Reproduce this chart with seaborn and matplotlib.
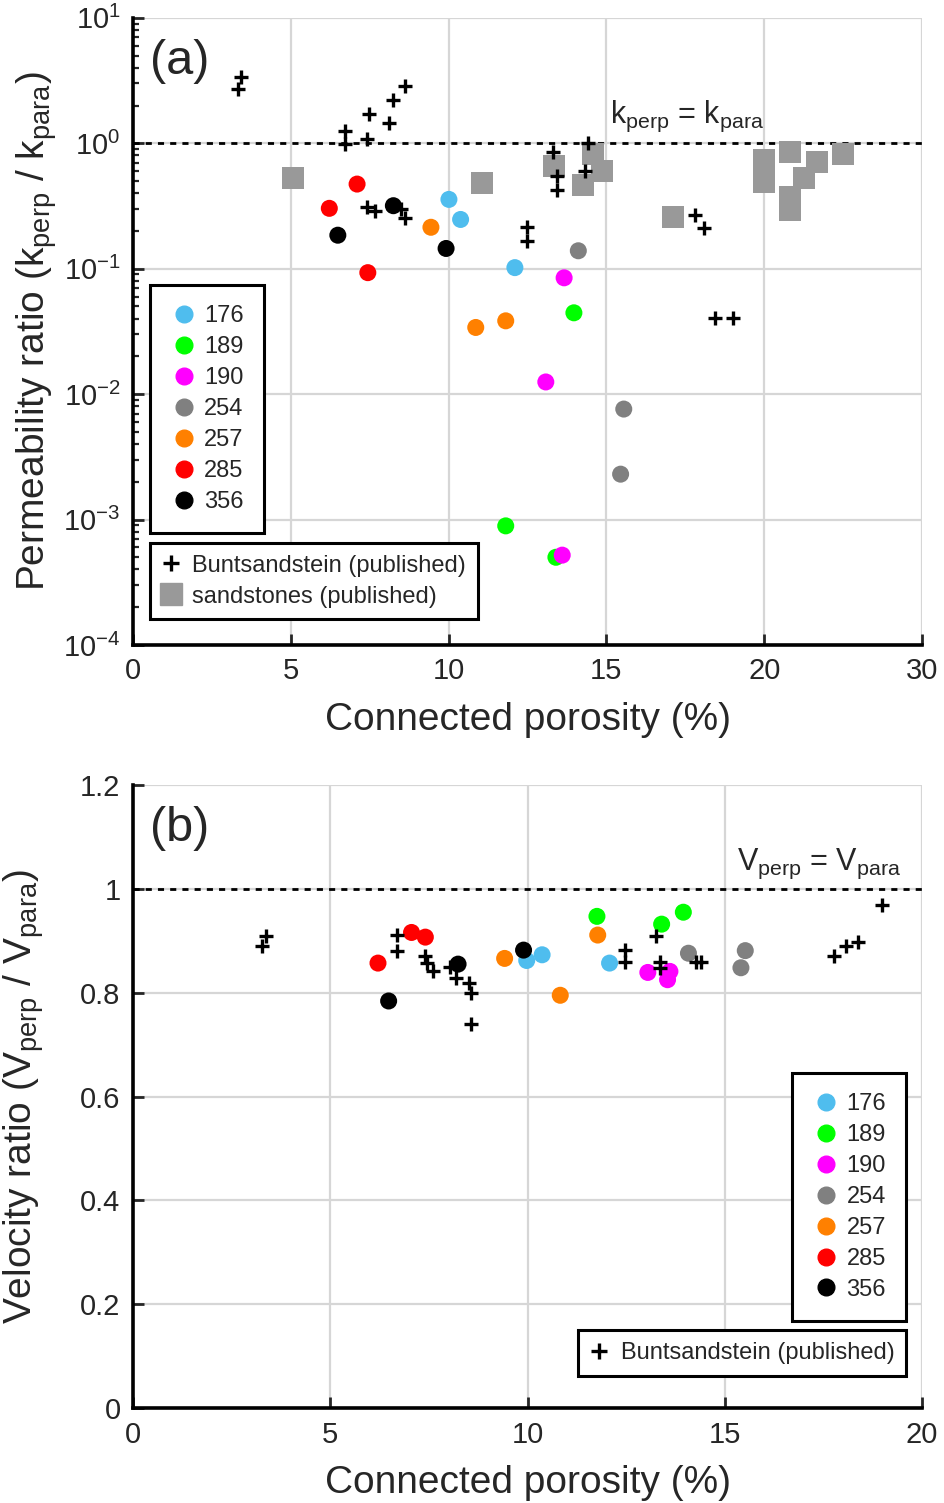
import numpy as np
import pandas as pd
import matplotlib
matplotlib.use('Agg')
import matplotlib.pyplot as plt
import seaborn as sns
from matplotlib.lines import Line2D
from matplotlib.ticker import LogLocator, LogFormatterMathtext, NullFormatter

sns.set_style('white')
plt.rcParams['font.family'] = ['Liberation Sans', 'DejaVu Sans']
plt.rcParams['mathtext.default'] = 'regular'
plt.rcParams['axes.unicode_minus'] = False

samples = ['176', '189', '190', '254', '257', '285', '356']
colors = ['#4FBDEE', '#00FF00', '#FF00FF', '#808080', '#FF8000', '#FF0000', '#000000']

# panel (a): permeability ratio vs connected porosity
perm_sample = ['176'] * 3 + ['189'] * 3 + ['190'] * 3 + ['254'] * 3 + ['257'] * 3 + ['285'] * 3 + ['356'] * 3
perm_por = [10.01, 10.38, 12.10, 13.97, 11.81, 13.40, 13.66, 13.08, 13.60,
            14.11, 15.55, 15.45, 9.44, 10.86, 11.81, 7.10, 6.22, 7.44, 8.25, 6.49, 9.92]
perm_ratio = [0.357, 0.247, 0.102, 0.0445, 0.00089, 0.0005, 0.0846, 0.0125, 0.00052,
              0.139, 0.0076, 0.0023, 0.214, 0.034, 0.0384, 0.473, 0.303, 0.093, 0.318, 0.185, 0.145]

bunt_por_a = [3.32, 3.42, 6.72, 6.72, 7.41, 7.49, 8.10, 8.23, 8.63, 7.41, 7.67, 8.49, 8.62,
              12.48, 12.48, 13.32, 13.42, 13.42, 14.41, 14.32, 17.81, 18.10, 18.44, 19.02]
bunt_ratio_a = [2.70, 3.40, 1.25, 0.99, 1.08, 1.70, 1.44, 2.22, 2.87, 0.309, 0.288, 0.30, 0.255,
                0.215, 0.166, 0.857, 0.551, 0.424, 1.0, 0.604, 0.268, 0.210, 0.0401, 0.0401]

sand_por = [5.06, 11.07, 13.35, 14.27, 14.58, 14.85, 17.10, 19.99, 19.99,
            20.81, 21.66, 21.26, 20.81, 20.81, 22.51]
sand_ratio = [0.526, 0.485, 0.662, 0.465, 0.822, 0.604, 0.257, 0.736, 0.494,
              0.857, 0.705, 0.526, 0.371, 0.294, 0.822]

# panel (b): velocity ratio vs connected porosity
vel_sample = perm_sample
vel_por = [9.98, 10.37, 12.08, 11.76, 13.40, 13.95, 13.05, 13.61, 13.55,
           14.08, 15.52, 15.41, 9.42, 11.78, 10.83, 6.21, 7.06, 7.41, 6.48, 8.24, 9.90]
vel_ratio = [0.862, 0.873, 0.857, 0.947, 0.932, 0.955, 0.839, 0.841, 0.825,
             0.876, 0.881, 0.848, 0.866, 0.911, 0.795, 0.857, 0.916, 0.907, 0.784, 0.855, 0.882]

bunt_por_b = [3.38, 3.28, 6.68, 6.68, 7.39, 7.44, 7.60, 8.03, 8.19, 8.52, 8.57, 8.57,
              13.26, 12.48, 12.48, 13.37, 13.37, 14.27, 14.40, 17.77, 18.07, 18.38, 18.98]
bunt_ratio_b = [0.910, 0.889, 0.911, 0.880, 0.871, 0.858, 0.841, 0.850, 0.828, 0.819, 0.800, 0.740,
                0.910, 0.882, 0.860, 0.860, 0.847, 0.860, 0.860, 0.870, 0.890, 0.898, 0.969]

pal = dict(zip(samples, colors))
df_a = pd.DataFrame({'sample': perm_sample, 'porosity': perm_por, 'ratio': perm_ratio})
df_b = pd.DataFrame({'sample': vel_sample, 'porosity': vel_por, 'ratio': vel_ratio})

fig = plt.figure(figsize=(9.44, 15.03), dpi=100)
ax1 = fig.add_axes([0.1409, 0.5709, 0.8358, 0.4172])
ax2 = fig.add_axes([0.1409, 0.0632, 0.8358, 0.4145])


def style_axes(ax):
    ax.set_axisbelow(True)
    ax.grid(True, color='#d6d6d6', lw=1.6)
    for s in ['top', 'right']:
        ax.spines[s].set_visible(False)
    for s in ['left', 'bottom']:
        ax.spines[s].set_linewidth(2.6)
        ax.spines[s].set_color('black')
    ax.tick_params(which='both', left=True, bottom=True)
    ax.tick_params(which='major', direction='in', length=8, width=2, labelsize=21, pad=9)
    ax.tick_params(which='minor', direction='in', length=4.5, width=1.6)


def color_legend(ax, anchor, loc):
    handles = [Line2D([], [], ls='', marker='o', ms=12, color=c, label=s) for s, c in zip(samples, colors)]
    leg = ax.legend(handles=handles, loc=loc, bbox_to_anchor=anchor, borderaxespad=0,
                    fontsize=17, frameon=True, fancybox=False, edgecolor='black',
                    handlelength=1.15, handletextpad=0.3, labelspacing=0.38,
                    borderpad=0.85, framealpha=1)
    leg.get_frame().set_linewidth(2.2)
    return leg


# ---- (a)
sns.scatterplot(data=df_a, x='porosity', y='ratio', hue='sample', palette=pal, s=150,
                linewidth=0, ax=ax1, legend=False, zorder=4)
sns.scatterplot(x=sand_por, y=sand_ratio, marker='s', color='#999999', s=270, linewidth=0,
                ax=ax1, zorder=3)
sns.scatterplot(x=bunt_por_a, y=bunt_ratio_a, marker='+', color='black', s=110, linewidth=2.4,
                ax=ax1, zorder=5)
ax1.axhline(1, color='black', ls=(0, (2.2, 2.2)), lw=2, zorder=2)
ax1.set_yscale('log')
ax1.set_xlim(0, 25)
ax1.set_ylim(1e-4, 1e1)
ax1.set_xticks([0, 5, 10, 15, 20, 25])
ax1.set_xticklabels(['0', '5', '10', '15', '20', '30'])
ax1.yaxis.set_major_locator(LogLocator(base=10, numticks=10))
ax1.yaxis.set_major_formatter(LogFormatterMathtext())
ax1.yaxis.set_minor_locator(LogLocator(base=10, subs=np.arange(2, 10), numticks=20))
ax1.yaxis.set_minor_formatter(NullFormatter())
style_axes(ax1)
ax1.grid(False, which='minor')
ax1.set_xlabel('Connected porosity (%)', fontsize=28, labelpad=12)
ax1.set_ylabel('Permeability ratio (k$_{perp}$ / k$_{para}$)', fontsize=28, va='center')
ax1.yaxis.set_label_coords(-0.122, 0.5)
ax1.text(0.022, 0.93, '(a)', transform=ax1.transAxes, fontsize=35, va='center', ha='left')
ax1.text(0.605, 1.18, 'k$_{perp}$ = k$_{para}$', transform=ax1.get_yaxis_transform(),
         fontsize=22, va='bottom', ha='left')
leg1 = color_legend(ax1, (0.0215, 0.574), 'upper left')
ax1.add_artist(leg1)
h2 = [Line2D([], [], ls='', marker='+', ms=11, mew=2.4, color='black', label='Buntsandstein (published)'),
      Line2D([], [], ls='', marker='s', ms=16, color='#999999', label='sandstones (published)')]
leg2 = ax1.legend(handles=h2, loc='upper left', bbox_to_anchor=(0.0215, 0.163), borderaxespad=0,
                  fontsize=17, frameon=True, fancybox=False, edgecolor='black', handlelength=0.8,
                  handletextpad=0.5, labelspacing=0.38, borderpad=0.5, framealpha=1)
leg2.get_frame().set_linewidth(2.2)

# ---- (b)
sns.scatterplot(data=df_b, x='porosity', y='ratio', hue='sample', palette=pal, s=150,
                linewidth=0, ax=ax2, legend=False, zorder=4)
sns.scatterplot(x=bunt_por_b, y=bunt_ratio_b, marker='+', color='black', s=110, linewidth=2.4,
                ax=ax2, zorder=5)
ax2.axhline(1, color='black', ls=(0, (2.2, 2.2)), lw=2, zorder=2)
ax2.set_xlim(0, 20)
ax2.set_ylim(0, 1.2)
ax2.set_xticks([0, 5, 10, 15, 20])
ax2.set_yticks([0, 0.2, 0.4, 0.6, 0.8, 1.0, 1.2])
ax2.set_yticklabels(['0', '0.2', '0.4', '0.6', '0.8', '1', '1.2'])
style_axes(ax2)
ax2.set_xlabel('Connected porosity (%)', fontsize=28, labelpad=12)
ax2.set_ylabel('Velocity ratio (V$_{perp}$ / V$_{para}$)', fontsize=28, va='center')
ax2.yaxis.set_label_coords(-0.138, 0.5)
ax2.text(0.022, 0.93, '(b)', transform=ax2.transAxes, fontsize=35, va='center', ha='left')
ax2.text(0.765, 1.015, 'V$_{perp}$ = V$_{para}$', transform=ax2.get_yaxis_transform(),
         fontsize=22, va='bottom', ha='left')
leg3 = color_legend(ax2, (0.980, 0.538), 'upper right')
ax2.add_artist(leg3)
h3 = [Line2D([], [], ls='', marker='+', ms=11, mew=2.4, color='black', label='Buntsandstein (published)')]
leg4 = ax2.legend(handles=h3, loc='upper right', bbox_to_anchor=(0.980, 0.125), borderaxespad=0,
                  fontsize=17, frameon=True, fancybox=False, edgecolor='black', handlelength=0.8,
                  handletextpad=0.5, borderpad=0.5, framealpha=1)
leg4.get_frame().set_linewidth(2.2)

fig.savefig('out.png', dpi=100)
